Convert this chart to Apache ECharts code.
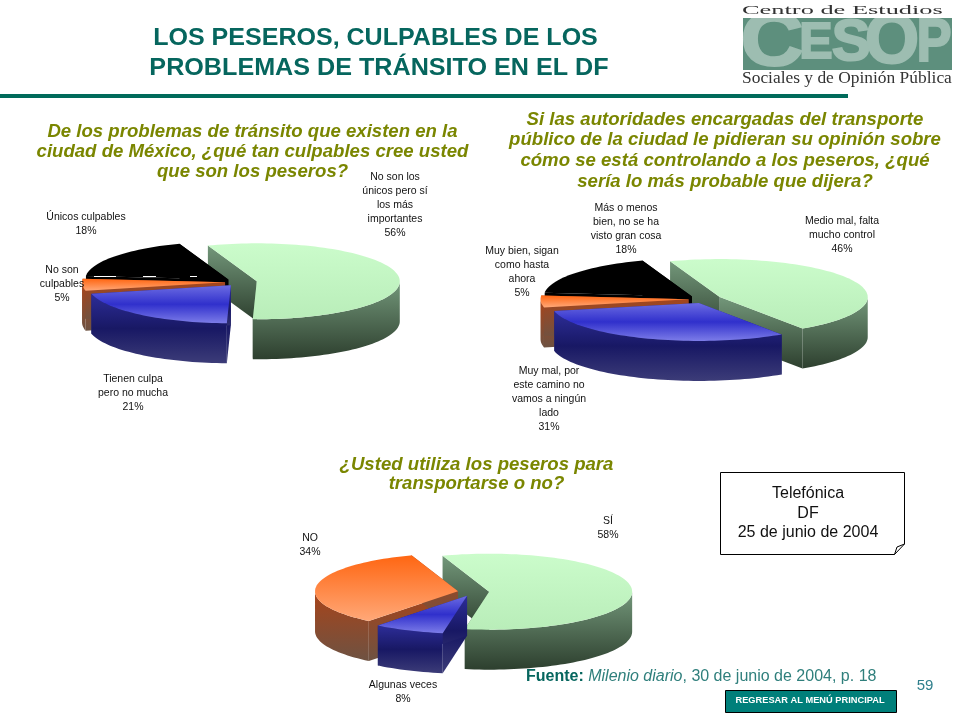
<!DOCTYPE html>
<html>
<head>
<meta charset="utf-8">
<title>Los peseros</title>
<style>
html,body{margin:0;padding:0;background:#fff}
#main{width:960px;height:720px}
</style>
<script src="https://cdn.jsdelivr.net/npm/echarts@6/dist/echarts.min.js"></script>
</head>
<body>
<div id="main"></div>
<script>
// datos de las tres graficas, en el sentido de las manecillas
const culpaLabels = ["No son los\núnicos pero sí\nlos más\nimportantes", "Tienen culpa\npero no mucha", "No son\nculpables", "Únicos culpables"]
const culpaValues = [56, 21, 5, 18]
const opinionLabels = ["Medio mal, falta\nmucho control", "Muy mal, por\neste camino no\nvamos a ningún\nlado", "Muy bien, sigan\ncomo hasta\nahora", "Más o menos\nbien, no se ha\nvisto gran cosa"]
const opinionValues = [46, 31, 5, 18]
const usoLabels = ["SÍ", "Algunas veces", "NO"]
const usoValues = [58, 8, 34]

const green = "green", blue = "blue", orange = "orange", black = "black"
const grad = (stops) => new echarts.graphic.LinearGradient(0, 0, 0, 1, stops.map((c, i) => ({offset: i / (stops.length - 1), color: c})))
const paint = {
    green: {top: grad(["#cbfccb", "#b9edb9"]), wall: grad(["#73977a", "#2d3f2e"])},
    blue: {top: grad(["#6c6ce2", "#3030cc", "#7c7ce8"]), wall: grad(["#2d2d98", "#181864", "#3c3c78"])},
    orange: {top: grad(["#ff6612", "#ffa878"]), wall: grad(["#a8441a", "#6e5242"])},
    black: {top: "#000", wall: "#000"}
}

// geometria de cada pastel (centro, radios, fondo, explosion)
const pies = [
    {values: culpaValues, labels: culpaLabels, colors: [green, blue, orange, black], cx: 241, cy: 282, rx: 143, ry: 38, depth: 40, explode: 16, start: 250,
        labelPos: [[395, 205], [133, 393], [62, 284], [86, 224]]},
    {values: opinionValues, labels: opinionLabels, colors: [green, blue, orange, black], cx: 705, cy: 299, rx: 148, ry: 38, depth: 40, explode: 16.5, start: 250.4,
        labelPos: [[842, 235], [549, 399], [522, 272], [626, 229]]},
    {values: usoValues, labels: usoLabels, colors: [green, blue, orange], cx: 473.5, cy: 592, rx: 143, ry: 38, depth: 40, explode: 15.7, start: 251,
        labelPos: [[608, 528], [403, 692], [310, 545]]}
]

function slices(pie) {
    let total = pie.values.reduce((a, b) => a + b, 0)
    let a = pie.start
    return pie.values.map((v, i) => {
        let from = a
        a += v / total * 360
        return {index: i, from: from, to: a}
    })
}

function rim(pie, ax, ay, t, dy) {
    let r = t * Math.PI / 180
    return [ax + pie.rx * Math.cos(r), ay + pie.ry * Math.sin(r) + (dy || 0)]
}

function drawSlice(pie, s) {
    let c = paint[pie.colors[s.index]]
    let mid = (s.from + s.to) / 2 * Math.PI / 180
    let ax = pie.cx + pie.explode * Math.cos(mid)
    let ay = pie.cy + pie.explode * pie.ry / pie.rx * Math.sin(mid)
    let kids = []
    // caras del corte
    for (let t of [s.from, s.to]) {
        let p = rim(pie, ax, ay, t)
        let q = rim(pie, ax, ay, t, pie.depth)
        kids.push({type: "polygon", shape: {points: [[ax, ay], p, q, [ax, ay + pie.depth]]}, style: {fill: c.wall}})
    }
    // pared exterior, solo la parte que mira al frente
    for (let k of [0, 360]) {
        let a = Math.max(s.from, k), b = Math.min(s.to, k + 180)
        if (b <= a) continue
        let up = [], down = []
        for (let t = a; t < b; t += 2) {
            up.push(rim(pie, ax, ay, t))
            down.unshift(rim(pie, ax, ay, t, pie.depth))
        }
        up.push(rim(pie, ax, ay, b))
        down.unshift(rim(pie, ax, ay, b, pie.depth))
        kids.push({type: "polygon", shape: {points: up.concat(down)}, style: {fill: c.wall}})
    }
    // cara superior
    let pts = [[ax, ay]]
    for (let t = s.from; t < s.to; t += 2) pts.push(rim(pie, ax, ay, t))
    pts.push(rim(pie, ax, ay, s.to))
    kids.push({type: "polygon", shape: {points: pts}, style: {fill: c.top}})
    return {type: "group", children: kids}
}

function pieSeries(pie) {
    let list = slices(pie)
    // primero la rebanada grande y luego de atras hacia adelante
    let order = [list[0]].concat(list.slice(1).reverse())
    return {
        type: "custom",
        coordinateSystem: "none",
        silent: true,
        animation: false,
        data: order.map(s => [s.index, pie.values[s.index]]),
        renderItem: function (params) {
            return drawSlice(pie, order[params.dataIndex])
        }
    }
}

const sans = "'Liberation Sans', Arial, sans-serif"
const serif = "'Liberation Serif', 'Times New Roman', serif"
const teal = "#06665e"
const olive = "#7a8600"

function text(x, y, str, font, fill, align, sx) {
    return {
        type: "text", x: x, y: y, z: 20, scaleX: sx || 1,
        style: {text: str, font: font, fill: fill, align: align || "center", verticalAlign: "middle"}
    }
}
function lineText(x, ys, lines, font, fill, sx) {
    return lines.map((l, i) => text(x, ys[i], l, font, fill, "center", sx))
}

let graphics = []

// etiquetas de los pasteles
pies.forEach(pie => {
    pie.labels.forEach((l, i) => {
        let t = text(pie.labelPos[i][0], pie.labelPos[i][1], l + "\n" + pie.values[i] + "%", "10.5px " + sans, "#111")
        t.style.lineHeight = 14
        graphics.push(t)
    })
})

// marcas blancas que quedan sobre la rebanada negra
for (let m of [[94, 116], [143, 156], [190, 197]]) {
    graphics.push({type: "line", z: 20, shape: {x1: m[0], y1: 276.5, x2: m[1], y2: 276.5}, style: {stroke: "#fff", lineWidth: 1}})
}

// titulo
graphics.push(text(375.5, 38, "LOS PESEROS, CULPABLES DE LOS", "bold 24px " + sans, teal, "center", 1.043))
graphics.push(text(379, 68, "PROBLEMAS DE TRÁNSITO EN EL DF", "bold 24px " + sans, teal, "center", 1.048))
graphics.push({type: "rect", z: 20, shape: {x: 0, y: 94, width: 848, height: 4}, style: {fill: "#006b5b"}})

// preguntas
const q = "italic bold 18px " + sans
graphics = graphics.concat(lineText(252.5, [132, 152, 172], ["De los problemas de tránsito que existen en la", "ciudad de México, ¿qué tan culpables cree usted", "que son los peseros?"], q, olive, 1.033))
graphics = graphics.concat(lineText(725, [120, 140, 161, 182], ["Si las autoridades encargadas del transporte", "público de la ciudad le pidieran su opinión sobre", "cómo se está controlando a los peseros, ¿qué", "sería lo más probable que dijera?"], q, olive, 1.033))
graphics = graphics.concat(lineText(476.5, [465, 484], ["¿Usted utiliza los peseros para", "transportarse o no?"], q, olive, 1.033))

// logo
graphics.push({type: "rect", z: 15, shape: {x: 743, y: 18, width: 209, height: 52}, style: {fill: "#5d8f7d"}})
const logoLetters = [["C", 772, 44, 76, 1.15], ["E", 816, 44, 50, 1], ["S", 851, 44, 58, 1], ["O", 892, 44, 70, 1], ["P", 934, 44, 62, 0.85]]
for (let l of logoLetters) {
    graphics.push({type: "text", z: 16, x: l[1], y: l[2], scaleX: l[4], style: {text: l[0], font: "bold " + l[3] + "px " + sans, fill: "#9dbdb1", stroke: "#9dbdb1", lineWidth: 2, align: "center", verticalAlign: "middle"}})
}
graphics.push({type: "rect", z: 17, shape: {x: 730, y: 0, width: 230, height: 18}, style: {fill: "#fff"}})
graphics.push({type: "rect", z: 17, shape: {x: 730, y: 70, width: 230, height: 22}, style: {fill: "#fff"}})
graphics.push(text(742, 11, "Centro de Estudios", "13px " + serif, "#333", "left", 2.03))
graphics.push(text(742, 79, "Sociales y de Opinión Pública", "16px " + serif, "#333", "left", 1.088))

// nota con esquina doblada
graphics.push({type: "polygon", z: 19, shape: {points: [[720.5, 472.5], [904.5, 472.5], [904.5, 544], [894.5, 554.5], [720.5, 554.5]]}, style: {fill: "#fff", stroke: "#000", lineWidth: 1}})
graphics.push({type: "polyline", z: 19, shape: {points: [[894.5, 554.5], [897, 547], [904.5, 544]]}, style: {fill: "none", stroke: "#000", lineWidth: 1}})
graphics = graphics.concat(lineText(808, [494, 514, 533], ["Telefónica", "DF", "25 de junio de 2004"], "16px " + sans, "#111"))

// fuente
graphics.push({
    type: "text", z: 20, x: 526, y: 677,
    style: {
        text: "{b|Fuente:} {i|Milenio diario}{n|, 30 de junio de 2004, p. 18}",
        font: "16px " + sans, align: "left", verticalAlign: "middle",
        rich: {
            b: {font: "bold 16px " + sans, fill: teal},
            i: {font: "italic 16px " + sans, fill: "#2f7f7c"},
            n: {font: "16px " + sans, fill: "#2f7f7c"}
        }
    }
})
graphics.push(text(925, 686, "59", "15px " + sans, "#2f7f8c"))

// boton
graphics.push({type: "rect", z: 19, shape: {x: 725.5, y: 690.5, width: 171, height: 22}, style: {fill: "#007f7a", stroke: "#000", lineWidth: 1}})
graphics.push(text(810, 701, "REGRESAR AL MENÚ PRINCIPAL", "bold 8.5px " + sans, "#fff", "center", 1.09))

var myChart = echarts.init(document.getElementById("main"))
myChart.setOption({
    backgroundColor: "#fff",
    animation: false,
    series: pies.map(pieSeries),
    graphic: {elements: graphics}
})
</script>
</body>
</html>
